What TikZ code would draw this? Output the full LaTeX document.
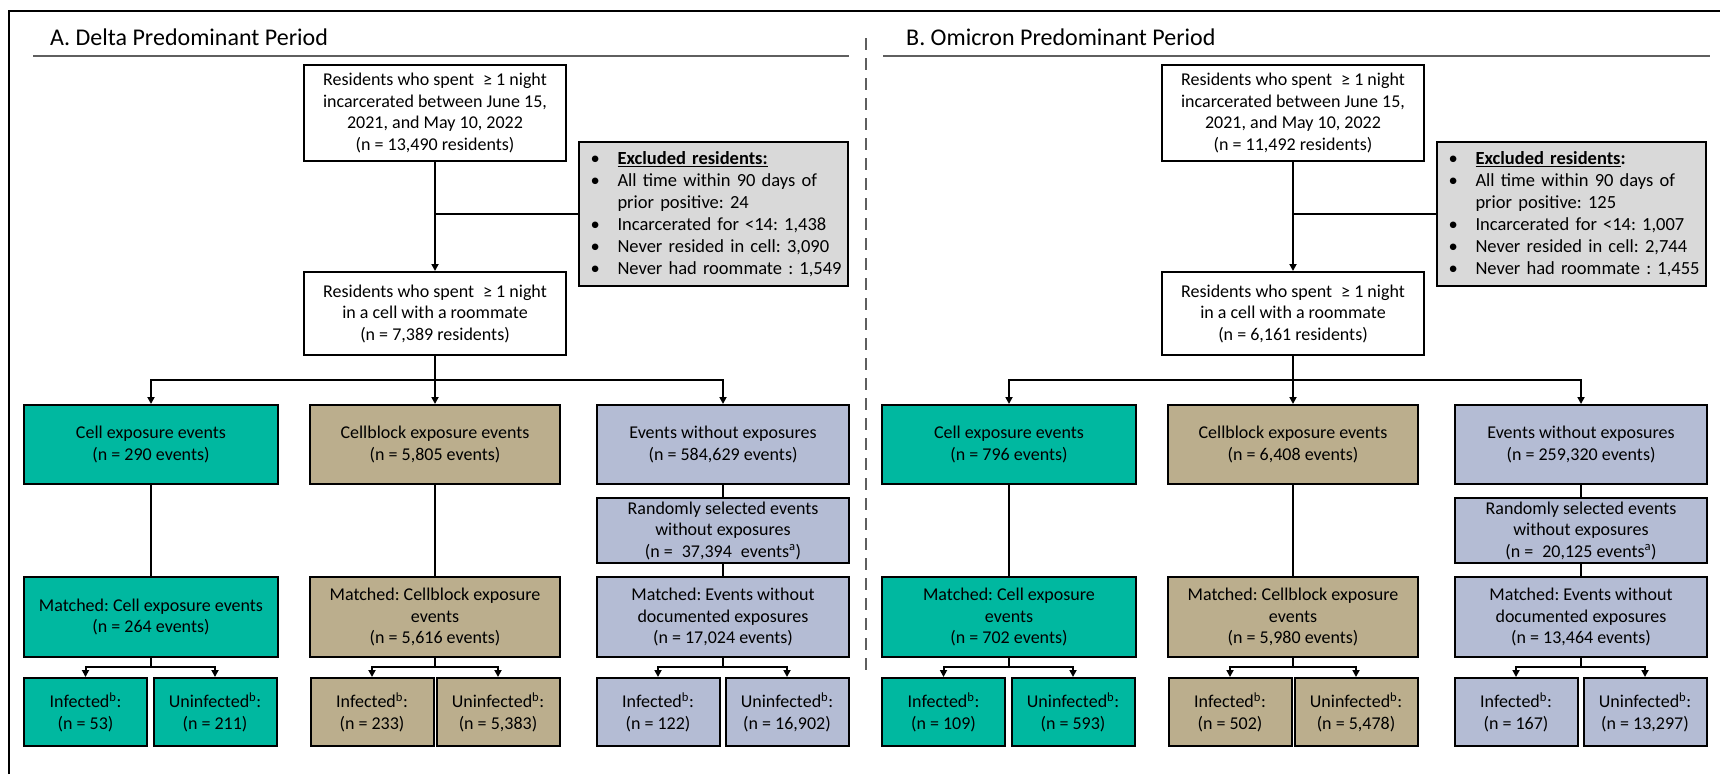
\documentclass[tikz,border=0pt]{standalone}
\usepackage{fontspec}
\setmainfont{Carlito}
\usetikzlibrary{arrows.meta}
\definecolor{cellteal}{RGB}{0,184,160}
\definecolor{blocktan}{RGB}{187,174,141}
\definecolor{nonelav}{RGB}{180,188,212}
\definecolor{exclgray}{RGB}{217,217,217}
\definecolor{rulegray}{RGB}{95,95,95}
\newcommand{\exbullet}{\makebox[35pt][l]{\hspace{8pt}\textbullet}}
\frenchspacing

\begin{document}
\begin{tikzpicture}[x=1pt,y=-1pt,
  box/.style={draw=black,line width=2pt,inner sep=0pt,align=center,font=\fontsize{18}{21.5}\selectfont},
  whitebox/.style={box,fill=white,minimum width=262pt},
  exclbox/.style={draw=black,line width=2pt,fill=exclgray,inner sep=0pt,minimum width=269pt,minimum height=144pt,text width=262pt,align=left,font=\fontsize{18.5}{22}\selectfont},
  cellbox/.style={box,fill=cellteal},
  blockbox/.style={box,fill=blocktan},
  nonebox/.style={box,fill=nonelav},
  wide/.style={minimum width=252pt},
  half/.style={minimum width=123pt,minimum height=68pt},
  conn/.style={line width=2pt},
  >={Triangle[length=7pt,width=7pt]},
  heading/.style={anchor=west,inner sep=0pt,font=\fontsize{24}{28}\selectfont},
  rule/.style={line width=2.5pt,rulegray}]
\useasboundingbox (0,0) rectangle (1720,774);
\draw[line width=2pt] (9,774) -- (9,11) -- (1720,11);
\draw[conn,rulegray,dash pattern=on 12pt off 8pt] (866,38) -- (866,672);

\node[heading] (atitle) at (50,37) {A. Delta Predominant Period};
\draw[rule] (33,56) -- (849,56);
\node[heading] (btitle) at (906,37) {B. Omicron Predominant Period};
\draw[rule] (883,56) -- (1710,56);

\node[whitebox,minimum height=96pt] (atop) at (435,113) {Residents who spent\enspace≥ 1 night\\incarcerated between June 15,\\2021, and May 10, 2022\\(n = 13,490 residents)};
\node[exclbox] (aexcl) at (713.5,214) {\exbullet\underline{\textbf{Excluded residents:}}\\
  \exbullet All time within 90 days of\\\hspace*{35pt}prior positive: 24\\
  \exbullet Incarcerated for <14: 1,438\\
  \exbullet Never resided in cell: 3,090\\
  \exbullet Never had roommate : 1,549};
\node[whitebox,minimum height=83pt] (amid) at (435,313.5) {Residents who spent\enspace≥ 1 night\\in a cell with a roommate\\(n = 7,389 residents)};
\node[cellbox,minimum width=254pt,minimum height=79pt] (acell) at (151,444.5) {Cell exposure events\\(n = 290 events)};
\node[blockbox,minimum width=250pt,minimum height=79pt] (ablock) at (435,444.5) {Cellblock exposure events\\(n = 5,805 events)};
\node[nonebox,wide,minimum height=79pt] (anone) at (723,444.5) {Events without exposures\\(n = 584,629 events)};
\node[nonebox,wide,minimum height=65pt] (arand) at (723,530.5) {Randomly selected events\\without exposures\\(n =\enspace37,394\enspace events\textsuperscript{a})};
\node[cellbox,minimum width=254pt,minimum height=80pt] (amcell) at (151,617) {Matched: Cell exposure events\\(n = 264 events)};
\node[blockbox,minimum width=250pt,minimum height=80pt] (amblock) at (435,617) {Matched: Cellblock exposure\\events\\(n = 5,616 events)};
\node[nonebox,wide,minimum height=80pt] (amnone) at (723,617) {Matched: Events without\\documented exposures\\(n = 17,024 events)};
\node[cellbox,half] (acellinf) at (85.5,712) {Infected\textsuperscript{b}:\\(n = 53)};
\node[cellbox,half] (acellun) at (215,712) {Uninfected\textsuperscript{b}:\\(n = 211)};
\node[blockbox,half] (ablockinf) at (372,712) {Infected\textsuperscript{b}:\\(n = 233)};
\node[blockbox,half] (ablockun) at (498,712) {Uninfected\textsuperscript{b}:\\(n = 5,383)};
\node[nonebox,half] (anoneinf) at (658,712) {Infected\textsuperscript{b}:\\(n = 122)};
\node[nonebox,half] (anoneun) at (787,712) {Uninfected\textsuperscript{b}:\\(n = 16,902)};
\coordinate (abr) at (435,380);
\coordinate (abrcell) at (151,667);
\coordinate (abrblock) at (435,667);
\coordinate (abrnone) at (723,667);

\begin{scope}[xshift=858pt]
\node[whitebox,minimum height=96pt] (btop) at (435,113) {Residents who spent\enspace≥ 1 night\\incarcerated between June 15,\\2021, and May 10, 2022\\(n = 11,492 residents)};
\node[exclbox] (bexcl) at (713.5,214) {\exbullet\underline{\textbf{Excluded residents}}\textbf{:}\\
  \exbullet All time within 90 days of\\\hspace*{35pt}prior positive: 125\\
  \exbullet Incarcerated for <14: 1,007\\
  \exbullet Never resided in cell: 2,744\\
  \exbullet Never had roommate : 1,455};
\node[whitebox,minimum height=83pt] (bmid) at (435,313.5) {Residents who spent\enspace≥ 1 night\\in a cell with a roommate\\(n = 6,161 residents)};
\node[cellbox,minimum width=254pt,minimum height=79pt] (bcell) at (151,444.5) {Cell exposure events\\(n = 796 events)};
\node[blockbox,minimum width=250pt,minimum height=79pt] (bblock) at (435,444.5) {Cellblock exposure events\\(n = 6,408 events)};
\node[nonebox,wide,minimum height=79pt] (bnone) at (723,444.5) {Events without exposures\\(n = 259,320 events)};
\node[nonebox,wide,minimum height=65pt] (brand) at (723,530.5) {Randomly selected events\\without exposures\\(n =\enspace20,125 events\textsuperscript{a})};
\node[cellbox,minimum width=254pt,minimum height=80pt] (bmcell) at (151,617) {Matched: Cell exposure\\events\\(n = 702 events)};
\node[blockbox,minimum width=250pt,minimum height=80pt] (bmblock) at (435,617) {Matched: Cellblock exposure\\events\\(n = 5,980 events)};
\node[nonebox,wide,minimum height=80pt] (bmnone) at (723,617) {Matched: Events without\\documented exposures\\(n = 13,464 events)};
\node[cellbox,half] (bcellinf) at (85.5,712) {Infected\textsuperscript{b}:\\(n = 109)};
\node[cellbox,half] (bcellun) at (215,712) {Uninfected\textsuperscript{b}:\\(n = 593)};
\node[blockbox,half] (bblockinf) at (372,712) {Infected\textsuperscript{b}:\\(n = 502)};
\node[blockbox,half] (bblockun) at (498,712) {Uninfected\textsuperscript{b}:\\(n = 5,478)};
\node[nonebox,half] (bnoneinf) at (658,712) {Infected\textsuperscript{b}:\\(n = 167)};
\node[nonebox,half] (bnoneun) at (787,712) {Uninfected\textsuperscript{b}:\\(n = 13,297)};
\coordinate (bbr) at (435,380);
\coordinate (bbrcell) at (151,667);
\coordinate (bbrblock) at (435,667);
\coordinate (bbrnone) at (723,667);
\end{scope}

\foreach \p in {a,b} {
  \draw[conn,->] (\p top) -- (\p mid);
  \draw[conn] (\p excl) -- (\p excl -| \p top);
  \draw[conn,->] (\p mid) -- (\p block);
  \draw[conn,->] (\p br) -| (\p cell);
  \draw[conn,->] (\p br) -| (\p none);
  \draw[conn] (\p cell) -- (\p mcell);
  \draw[conn] (\p block) -- (\p mblock);
  \draw[conn] (\p none) -- (\p rand);
  \draw[conn] (\p rand) -- (\p mnone);
  \foreach \g in {cell,block,none} {
    \draw[conn] (\p m\g) -- (\p br\g);
    \draw[conn,->] (\p br\g) -| (\p\g inf);
    \draw[conn,->] (\p br\g) -| (\p\g un);
  }
}
\end{tikzpicture}
\end{document}
